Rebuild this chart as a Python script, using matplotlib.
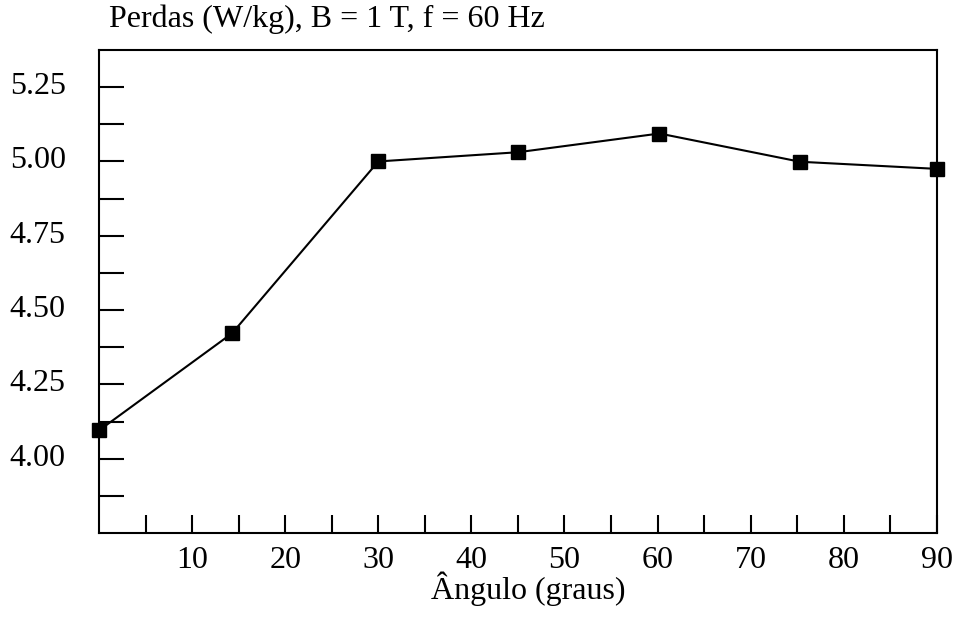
import matplotlib
matplotlib.use('Agg')
import matplotlib.pyplot as plt
import matplotlib.transforms as mtransforms
import numpy as np

plt.rcParams['font.family'] = ['Liberation Serif', 'DejaVu Serif']

# perdas medidas vs. angulo
angulos = [0, 14.3, 30, 45, 60.2, 75.3, 90]
perdas = [4.095, 4.422, 5.00, 5.031, 5.094, 4.999, 4.975]

fig = plt.figure(figsize=(9.58, 6.17), dpi=100)
ax = fig.add_axes([0.1033, 0.1361, 0.8747, 0.7829])

ax.plot(angulos, perdas, color='black', lw=1.5, marker='s', ms=10,
        mfc='black', mec='black', clip_on=False, zorder=3)

ax.set_xlim(0, 90)
ax.set_ylim(3.75, 5.375)

ax.set_xticks(np.arange(10, 91, 10))
ax.set_xticks(np.arange(5, 90, 5), minor=True)
ax.set_yticks([4.00, 4.25, 4.50, 4.75, 5.00, 5.25])
ax.set_yticklabels(['4.00', '4.25', '4.50', '4.75', '5.00', '5.25'])
ax.set_yticks(np.arange(3.875, 5.3, 0.125), minor=True)

ax.tick_params(axis='both', which='both', direction='in', width=1.5,
               labelsize=23, colors='black')
ax.tick_params(axis='y', which='both', length=18, pad=24)
ax.tick_params(axis='x', which='both', length=13, pad=9)

# rotulos do eixo y um pouco acima dos ticks
up = mtransforms.ScaledTranslation(0, 4 / 100, fig.dpi_scale_trans)
for lbl in ax.get_yticklabels():
    lbl.set_transform(lbl.get_transform() + up)

for s in ax.spines.values():
    s.set_linewidth(1.5)

ax.set_xlabel('Ângulo (graus)', fontsize=23)
ax.xaxis.set_label_coords(0.512, -0.08)
fig.text(109 / 958, 1 - 27 / 617, 'Perdas (W/kg), B = 1 T, f = 60 Hz',
         fontsize=23, ha='left', va='baseline')

fig.savefig('out.png', dpi=100)
